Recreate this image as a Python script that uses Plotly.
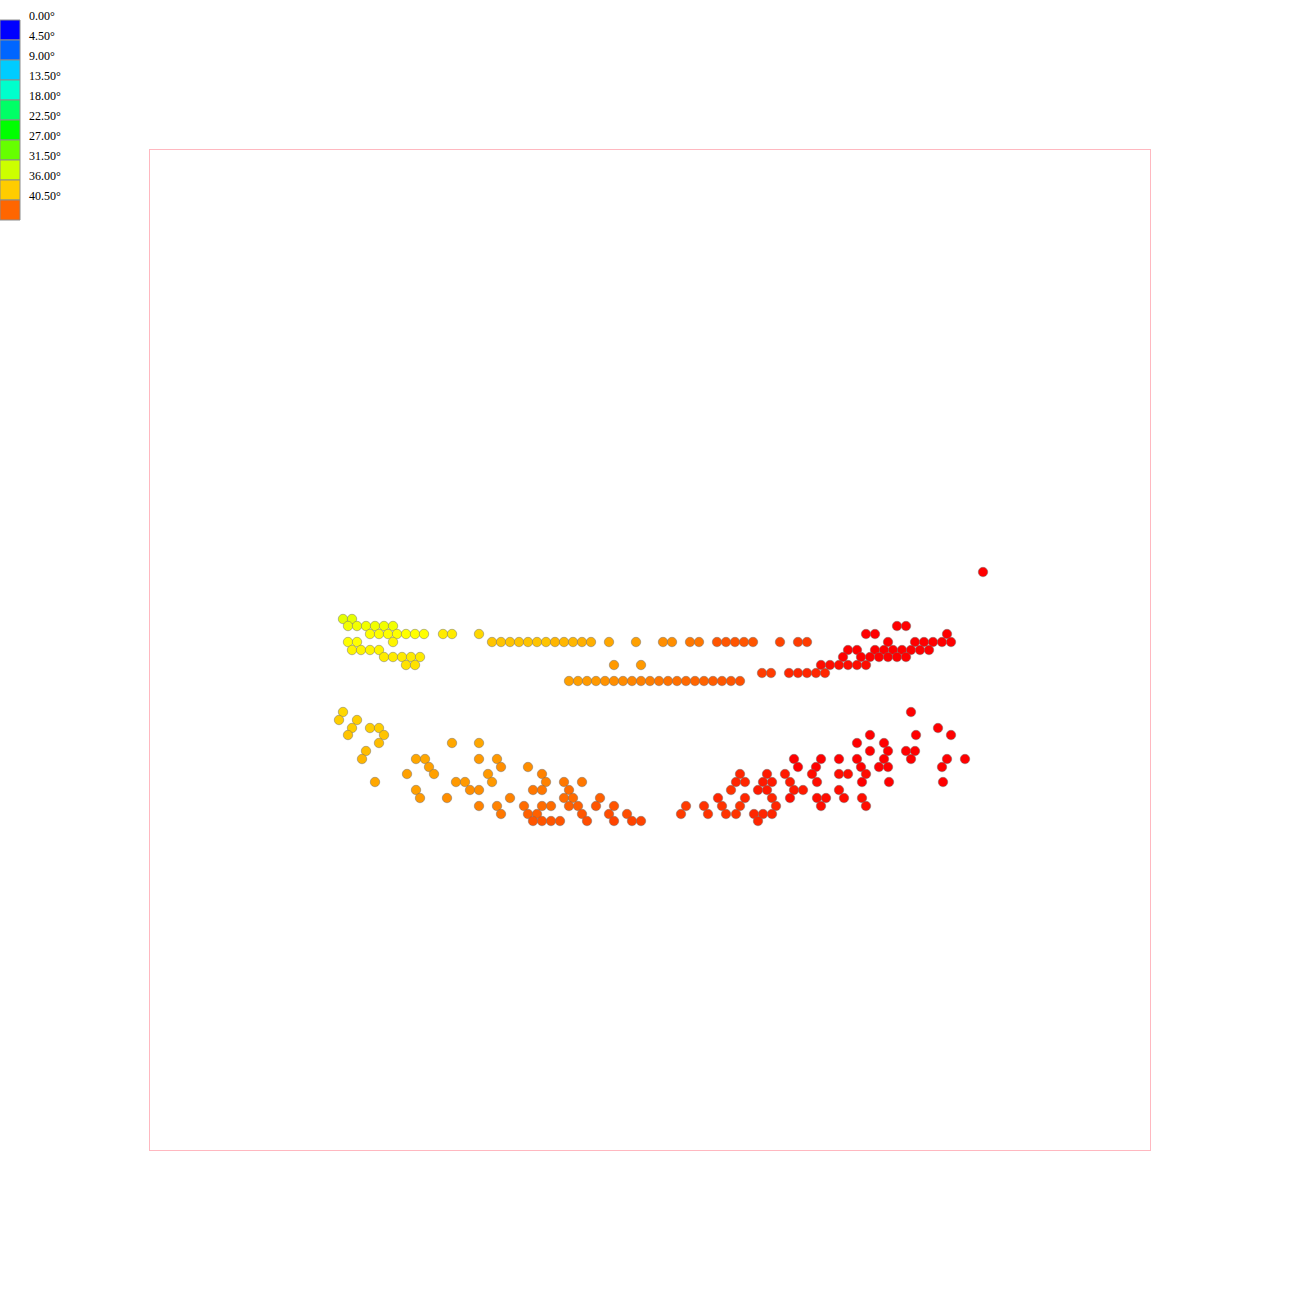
import plotly.graph_objects as go

# ---- legend (colour classes) ----
legend_labels = ["0.00°", "4.50°", "9.00°", "13.50°", "18.00°", "22.50°",
                 "27.00°", "31.50°", "36.00°", "40.50°"]
legend_colors = ["#0000ff", "#0066ff", "#00ccff", "#00ffcc", "#00ff66",
                 "#00ff00", "#66ff00", "#ccff00", "#ffcc00", "#ff6600"]

# ---- upper band of points ----
upper_x = [193, 202,
           198, 207, 216, 225, 234, 243,
           220, 229, 238, 247, 256, 265, 274, 293, 302, 329, 716, 725, 797,
           198, 207, 243, 342, 351, 360, 369, 378, 387, 396, 405, 414, 423, 432, 441,
           459, 486, 513, 522, 540, 549, 567, 576, 585, 594, 603, 630, 648, 657,
           738, 765, 774, 783, 792, 801,
           747, 756,
           202, 211, 220, 229, 698, 707, 725, 734, 743, 752, 761, 770, 779,
           234, 243, 252, 261, 270, 693, 711, 720, 729, 738, 747, 756,
           256, 265, 464, 491, 671, 680, 689, 698, 707, 716,
           612, 621, 639, 648, 657, 666, 675,
           419, 428, 437, 446, 455, 464, 473, 482, 491, 500,
           509, 518, 527, 536, 545, 554, 563, 572, 581, 590,
           833]
upper_y = [531, 531,
           524, 524, 524, 524, 524, 524,
           516, 516, 516, 516, 516, 516, 516, 516, 516, 516, 516, 516, 516,
           508, 508, 508, 508, 508, 508, 508, 508, 508, 508, 508, 508, 508, 508, 508,
           508, 508, 508, 508, 508, 508, 508, 508, 508, 508, 508, 508, 508, 508,
           508, 508, 508, 508, 508, 508,
           524, 524,
           500, 500, 500, 500, 500, 500, 500, 500, 500, 500, 500, 500, 500,
           493, 493, 493, 493, 493, 493, 493, 493, 493, 493, 493, 493,
           485, 485, 485, 485, 485, 485, 485, 485, 485, 485,
           477, 477, 477, 477, 477, 477, 477,
           469, 469, 469, 469, 469, 469, 469, 469, 469, 469,
           469, 469, 469, 469, 469, 469, 469, 469, 469, 469,
           578]
upper_angle = [34, 34,
               34.5, 34.5, 34.5, 34.5, 34.5, 34.5,
               35, 35, 35, 35, 35, 35, 35, 36, 36, 37, 48, 48, 49,
               35, 35, 35.5, 38, 38, 38, 38, 38, 38, 38, 39, 39, 39, 39.5, 39.5,
               40, 40.5, 41.5, 41.5, 42.5, 42.5, 44, 44, 44, 44, 44, 45, 45.5, 45.5,
               48, 49, 49, 49, 49, 49,
               48.5, 48.5,
               35.5, 35.5, 35.5, 35.5, 48, 48, 48, 48, 48, 48, 48, 48, 48,
               36, 36, 36, 36, 36, 48, 48, 48, 48, 48, 48, 48,
               36.5, 36.5, 41, 41, 47.5, 47.5, 47.5, 47.5, 47.5, 47.5,
               45.5, 45.5, 46.5, 46.5, 46.5, 46.5, 46.5,
               40.5, 40.6, 40.9, 41.0, 41.3, 41.5, 41.6, 41.9, 42.1, 42.2,
               42.5, 42.7, 42.8, 43.1, 43.3, 43.4, 43.7, 43.9, 44.0, 44.3,
               49]

# ---- lower band of points ----
lower_x = [193, 761,
           189, 207,
           202, 220, 229, 788,
           198, 234, 720, 766, 801,
           229, 302, 329, 707, 734,
           216, 720, 738, 756, 765,
           212, 266, 275, 329, 347, 644, 671, 689, 707, 734, 761, 797, 815,
           279, 351, 378, 648, 666, 711, 729, 738, 792,
           257, 284, 338, 392, 590, 617, 635, 662, 689, 698, 716,
           225, 306, 315, 342, 396, 414, 432, 586, 595, 613, 622, 640, 667, 712, 739, 793,
           266, 320, 329, 383, 392, 419, 581, 608, 617, 644, 653, 689,
           270, 297, 360, 414, 423, 450, 568, 595, 622, 640, 667, 676, 694, 712,
           329, 347, 374, 392, 401, 419, 428, 446, 464, 536, 554, 572, 590, 626, 671, 716,
           351, 378, 387, 432, 459, 477, 531, 558, 576, 586, 604, 613, 622,
           383, 392, 401, 410, 437, 464, 482, 491, 608]
lower_y = [438, 438,
           430, 430,
           422, 422, 422, 422,
           415, 415, 415, 415, 415,
           407, 407, 407, 407, 407,
           399, 399, 399, 399, 399,
           391, 391, 391, 391, 391, 391, 391, 391, 391, 391, 391, 391, 391,
           383, 383, 383, 383, 383, 383, 383, 383, 383,
           376, 376, 376, 376, 376, 376, 376, 376, 376, 376, 376,
           368, 368, 368, 368, 368, 368, 368, 368, 368, 368, 368, 368, 368, 368, 368, 368,
           360, 360, 360, 360, 360, 360, 360, 360, 360, 360, 360, 360,
           352, 352, 352, 352, 352, 352, 352, 352, 352, 352, 352, 352, 352, 352,
           344, 344, 344, 344, 344, 344, 344, 344, 344, 344, 344, 344, 344, 344, 344, 344,
           336, 336, 336, 336, 336, 336, 336, 336, 336, 336, 336, 336, 336,
           329, 329, 329, 329, 329, 329, 329, 329, 329]
lower_angle = [37, 49,
               37.5, 37.5,
               37.5, 37.5, 37.5, 49,
               38, 38, 49, 49, 49,
               38.5, 40, 40, 48.5, 48.5,
               38.5, 48.5, 48.5, 48.5, 48.5,
               39, 40, 40, 41, 41, 48, 48, 48, 48, 48, 48, 48, 48,
               40.5, 41.5, 41.5, 48, 48, 48, 48, 48, 48,
               40.5, 40.5, 41, 42, 46.5, 47, 47, 47.5, 47.5, 47.5, 47.5,
               40, 41, 41, 41, 42, 42.5, 42.5, 46.5, 46.5, 47, 47, 47, 47.5, 48, 48, 48.5,
               40.5, 41.5, 41.5, 42.5, 42.5, 43, 46, 47, 47, 47, 47, 47.5,
               41, 41.5, 42, 43, 43, 43.5, 46.5, 46.5, 46.5, 47.5, 47.5, 47.5, 47.5, 47.5,
               42, 42, 43, 43, 43, 43.5, 43.5, 44, 44, 45.5, 46, 46, 46, 46.5, 47.5, 47.5,
               42.5, 43.5, 43.5, 44, 44.5, 44.5, 45.5, 46, 46, 46, 46.5, 46.5, 46.5,
               44, 44, 44, 44, 44.5, 45, 45, 45, 46.5]

# colour ramp used for the points (angle -> colour)
ramp_angles = [33, 35, 38, 41, 44, 46, 48, 50]
ramp_colors = ["#ccff00", "#ffff00", "#ffc400", "#ff9900", "#ff5500",
               "#ff3300", "#ff0000", "#ff0000"]

cmin, cmax = ramp_angles[0], ramp_angles[-1]
colorscale = [[(a - cmin) / (cmax - cmin), c] for a, c in zip(ramp_angles, ramp_colors)]

fig = go.Figure()
for xs, ys, angs in [(upper_x, upper_y, upper_angle), (lower_x, lower_y, lower_angle)]:
    fig.add_trace(go.Scatter(
        x=xs, y=ys, mode="markers",
        marker=dict(size=9.5, color=angs, colorscale=colorscale, cmin=cmin, cmax=cmax,
                    line=dict(color="rgba(110,110,110,0.8)", width=0.6)),
        showlegend=False, hoverinfo="skip"))

# legend swatches and labels (drawn in paper space, left of the frame)
shapes = []
annotations = []
for i, (lab, col) in enumerate(zip(legend_labels, legend_colors)):
    top_px = 20 + 20 * i
    y1 = (1150 - top_px) / 1000.0
    y0 = (1150 - top_px - 20) / 1000.0
    shapes.append(dict(type="rect", xref="paper", yref="paper",
                       x0=-0.15, x1=-0.13, y0=y0, y1=y1,
                       fillcolor=col, line=dict(color="#8c8c8c", width=1), layer="above"))
    annotations.append(dict(text=lab, xref="paper", yref="paper",
                            x=-0.1235, y=(1150 - (16 + 20 * i)) / 1000.0,
                            xanchor="left", yanchor="middle", showarrow=False,
                            font=dict(family="Liberation Serif", size=12, color="#000000")))

axis_style = dict(range=[0, 1000], showgrid=False, zeroline=False, showticklabels=False,
                  ticks="", showline=True, mirror=True, linecolor="#ffb8c0", linewidth=1,
                  fixedrange=True)

fig.update_layout(
    width=1300, height=1300, autosize=False,
    margin=dict(l=150, r=150, t=150, b=150, pad=0),
    paper_bgcolor="white", plot_bgcolor="white",
    xaxis=axis_style, yaxis=axis_style,
    shapes=shapes, annotations=annotations,
    font=dict(family="Liberation Serif", size=12),
)

fig.write_html("out.html")
